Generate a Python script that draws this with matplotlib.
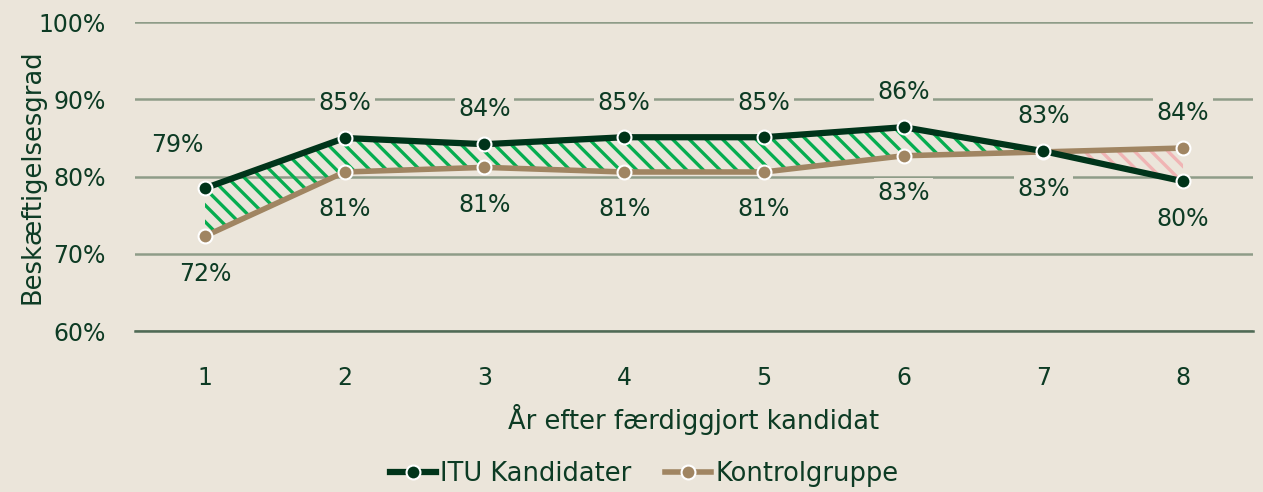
import numpy as np
import matplotlib.pyplot as plt

plt.rcParams['font.family'] = ['DejaVu Sans']
plt.rcParams['hatch.linewidth'] = 2.4

aar = [1, 2, 3, 4, 5, 6, 7, 8]
itu = [78.5, 85.0, 84.2, 85.1, 85.1, 86.4, 83.3, 79.4]
kontrol = [72.3, 80.6, 81.2, 80.6, 80.6, 82.7, 83.2, 83.7]
itu_lbl = ["79%", "85%", "84%", "85%", "85%", "86%", "83%", "80%"]
kontrol_lbl = ["72%", "81%", "81%", "81%", "81%", "83%", "83%", "84%"]

bg = '#ebe5da'
dark = '#00341a'
tan = '#a08562'
txt = '#0d3b24'
grid = '#8e9c88'

fig = plt.figure(figsize=(12.63, 4.92), dpi=100, facecolor=bg)
ax = fig.add_axes([0.107, 0.327, 0.885, 0.628])
ax.set_facecolor(bg)

x = np.array(aar)
a = np.array(itu)
b = np.array(kontrol)

# skravering mellem kurverne
ax.fill_between(x, a, b, where=a >= b, interpolate=True, facecolor='none',
                edgecolor='#06ad4f', hatch='\\\\', linewidth=0, zorder=2)
ax.fill_between(x, a, b, where=a < b, interpolate=True, facecolor='none',
                edgecolor='#f0b4b4', hatch='\\\\', linewidth=0, zorder=2)

ax.plot(x, b, color=tan, lw=4, marker='o', ms=10, mfc=tan, mec='white', mew=1.5,
        zorder=4, label='Kontrolgruppe')
ax.plot(x, a, color=dark, lw=4.5, marker='o', ms=10, mfc=dark, mec='white', mew=1.5,
        zorder=5, label='ITU Kandidater')

for i in range(len(x)):
    if a[i] >= b[i]:
        off_a, off_b = 25, -27
    else:
        off_a, off_b = -27, 25
    dx = -20 if i == 0 else 0
    dy = 31 if i == 0 else off_a
    ax.annotate(itu_lbl[i], (x[i], a[i]), xytext=(dx, dy), textcoords='offset points',
                ha='center', va='center', fontsize=17, color=txt, zorder=3,
                bbox=dict(boxstyle='square,pad=0.15', fc=bg, ec='none'))
    ax.annotate(kontrol_lbl[i], (x[i], b[i]), xytext=(0, off_b), textcoords='offset points',
                ha='center', va='center', fontsize=17, color=txt, zorder=3,
                bbox=dict(boxstyle='square,pad=0.15', fc=bg, ec='none'))

ax.set_xlim(0.5, 8.5)
ax.set_ylim(60, 100)
ax.set_yticks([60, 70, 80, 90, 100])
ax.set_yticklabels(['60%', '70%', '80%', '90%', '100%'])
ax.set_xticks(aar)
ax.tick_params(length=0, labelsize=17, colors=txt)
ax.tick_params(axis='y', pad=21)
ax.tick_params(axis='x', pad=25)
ax.grid(axis='y', color=grid, lw=1.8, zorder=1)
for s in ['top', 'right', 'left']:
    ax.spines[s].set_visible(False)
ax.spines['bottom'].set_color('#4f6a55')
ax.spines['bottom'].set_linewidth(1.8)

ax.set_xlabel('År efter færdiggjort kandidat', fontsize=18.5, color=txt, labelpad=10)
ax.set_ylabel('Beskæftigelsesgrad', fontsize=18.5, color=txt)
ax.yaxis.set_label_coords(-0.08, 0.5)

h, l = ax.get_legend_handles_labels()
fig.legend(h[::-1], l[::-1], loc='center', bbox_to_anchor=(0.51, 0.037), ncol=2,
           frameon=False, fontsize=18.5, labelcolor=txt, handlelength=1.8,
           handletextpad=0.15, columnspacing=1.3)

fig.savefig('out.png', dpi=100, facecolor=bg)
